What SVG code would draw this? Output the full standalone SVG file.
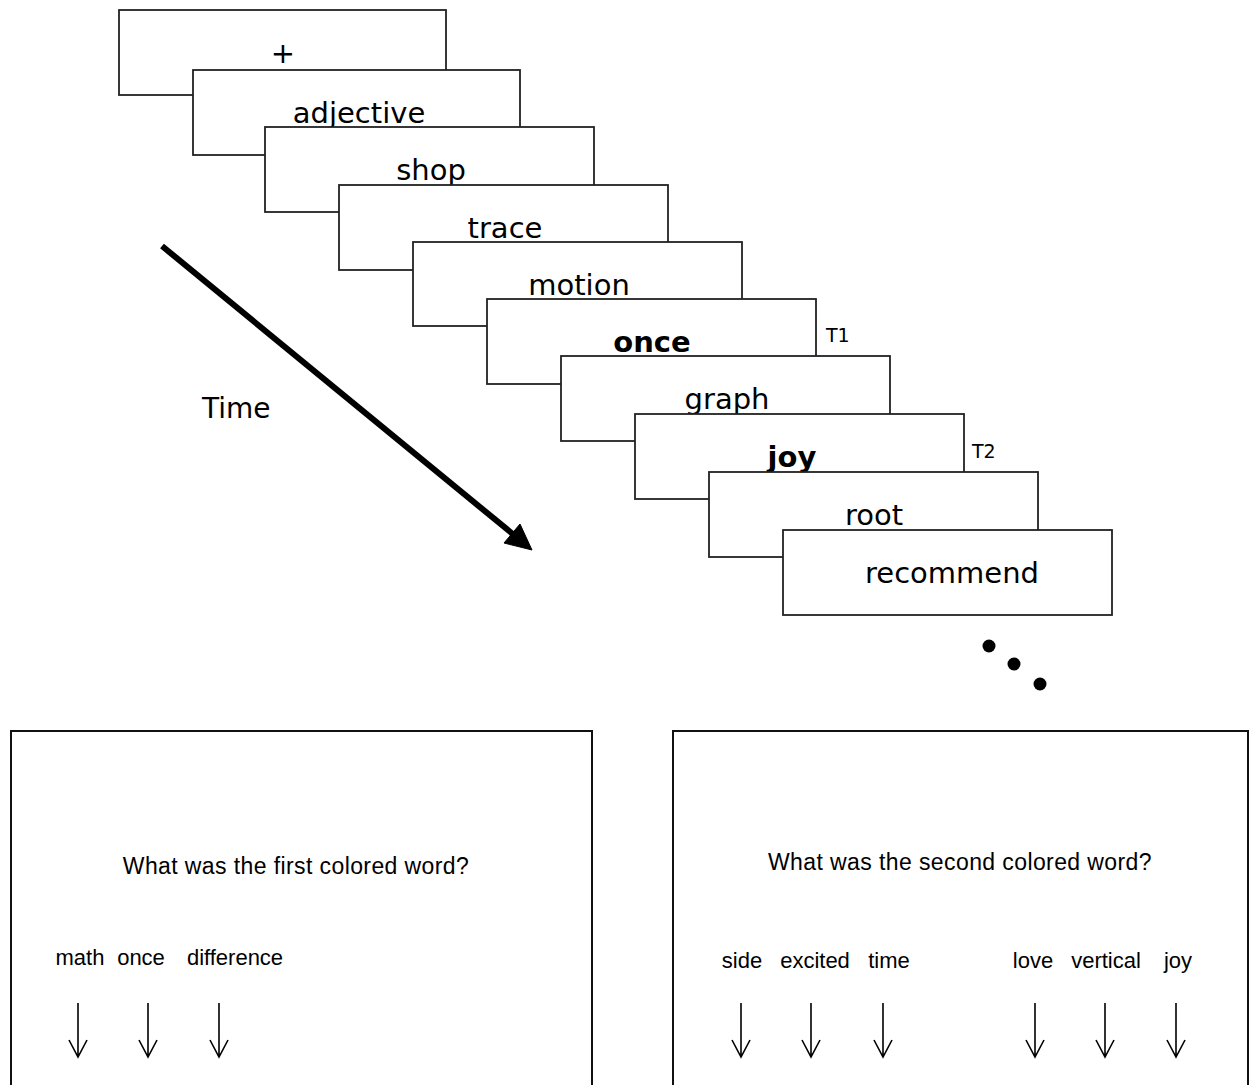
<svg xmlns="http://www.w3.org/2000/svg" xmlns:xlink="http://www.w3.org/1999/xlink" width="1259" height="1085" viewBox="0 0 1259 1085">
<style>
.fr{fill:#fff;stroke:#222;stroke-width:1.8}
.w{font-family:"DejaVu Sans",Verdana,sans-serif;font-size:29px;fill:#000;text-anchor:middle}
.b{font-weight:bold}
.t{font-family:"DejaVu Sans",Verdana,sans-serif;font-size:19px;fill:#000}
.q{font-family:"Liberation Sans",Arial,sans-serif;font-size:23px;letter-spacing:0.4px;fill:#000;text-anchor:middle}
.o{font-family:"Liberation Sans",Arial,sans-serif;font-size:22px;fill:#000;text-anchor:middle}
.box{fill:none;stroke:#111;stroke-width:2}
.da{fill:none;stroke:#000;stroke-width:1.6}
</style>
<defs>
<path id="darr" class="da" d="M0 1003 V1057 M-9 1040 L0 1057 L9 1040"/>
</defs>
<rect width="1259" height="1085" fill="#fff"/>
<g id="frames">
<g id="f1"><rect class="fr" x="119" y="10" width="327" height="85"/><text class="w" x="283" y="63">+</text></g>
<g id="f2"><rect class="fr" x="193" y="70" width="327" height="85"/><text class="w" x="359" y="123">adjective</text></g>
<g id="f3"><rect class="fr" x="265" y="127" width="329" height="85"/><text class="w" x="431" y="180">shop</text></g>
<g id="f4"><rect class="fr" x="339" y="185" width="329" height="85"/><text class="w" x="505" y="238">trace</text></g>
<g id="f5"><rect class="fr" x="413" y="242" width="329" height="84"/><text class="w" x="579" y="295">motion</text></g>
<g id="f6"><rect class="fr" x="487" y="299" width="329" height="85"/><text class="w b" x="652" y="352">once</text></g>
<g id="f7"><rect class="fr" x="561" y="356" width="329" height="85"/><text class="w" x="727" y="409">graph</text></g>
<g id="f8"><rect class="fr" x="635" y="414" width="329" height="85"/><text class="w b" x="792" y="467">joy</text></g>
<g id="f9"><rect class="fr" x="709" y="472" width="329" height="85"/><text class="w" x="874" y="525">root</text></g>
<g id="f10"><rect class="fr" x="783" y="530" width="329" height="85"/><text class="w" x="952" y="583">recommend</text></g>
</g>
<g id="labels">
<text class="t" x="826" y="342">T1</text>
<text class="t" x="972" y="458">T2</text>
<text id="time" x="202" y="418" style="font-family:'DejaVu Sans',Verdana,sans-serif;font-size:28px;fill:#000">Time</text>
</g>
<g id="connectors">
<line x1="162" y1="246" x2="514" y2="535" stroke="#000" stroke-width="6"/>
<polygon points="532,550 504,543 520,524" fill="#000" stroke="#000" stroke-width="1"/>
</g>
<g id="dots">
<circle cx="989" cy="646" r="6.5" fill="#000"/>
<circle cx="1014" cy="664" r="6.5" fill="#000"/>
<circle cx="1040" cy="684" r="6.5" fill="#000"/>
</g>
<g id="q1">
<path class="box" d="M11 1090 V731 H592 V1090"/>
<text class="q" x="296" y="874">What was the first colored word?</text>
<text class="o" x="80" y="965">math</text>
<text class="o" x="141" y="965">once</text>
<text class="o" x="235" y="965">difference</text>
<use xlink:href="#darr" x="78"/>
<use xlink:href="#darr" x="148"/>
<use xlink:href="#darr" x="219"/>
</g>
<g id="q2">
<path class="box" d="M673 1090 V731 H1248 V1090"/>
<text class="q" x="960" y="870">What was the second colored word?</text>
<text class="o" x="742" y="968">side</text>
<text class="o" x="815" y="968">excited</text>
<text class="o" x="889" y="968">time</text>
<text class="o" x="1033" y="968">love</text>
<text class="o" x="1106" y="968">vertical</text>
<text class="o" x="1178" y="968">joy</text>
<use xlink:href="#darr" x="741"/>
<use xlink:href="#darr" x="811"/>
<use xlink:href="#darr" x="883"/>
<use xlink:href="#darr" x="1035"/>
<use xlink:href="#darr" x="1105"/>
<use xlink:href="#darr" x="1176"/>
</g>
</svg>
